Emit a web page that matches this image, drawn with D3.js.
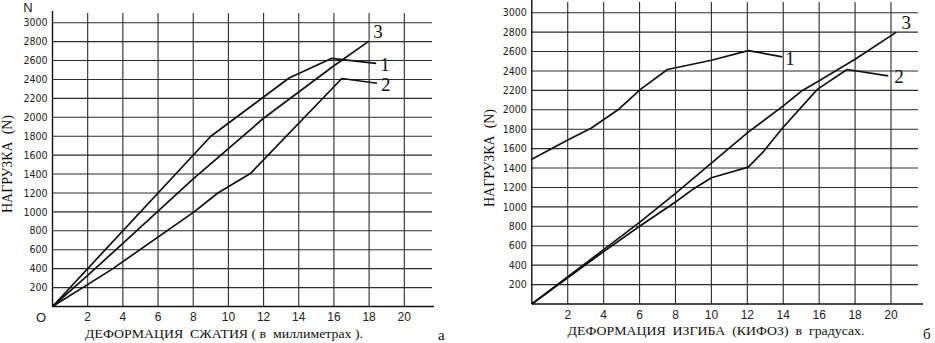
<!DOCTYPE html>
<html>
<head>
<meta charset="utf-8">
<script src="https://cdn.jsdelivr.net/npm/d3@7"></script>
<style>
    body { margin: 0; background: #fff; }
    .grid line { stroke: #2b2b2b; stroke-width: 1.1; }
    .axis-line { stroke: #111; stroke-width: 1.4; }
    .curve { fill: none; stroke: #111; stroke-width: 1.7; stroke-linejoin: round; }
    .y-tick { font-family: "Liberation Sans Narrow", "DejaVu Sans Condensed", sans-serif; font-size: 10.5px; fill: #222; }
    .x-tick { font-family: "Liberation Sans", Arial, sans-serif; font-size: 12px; fill: #222; }
    .title { font-family: "Liberation Serif", "Times New Roman", serif; font-size: 13.5px; fill: #111; white-space: pre; }
    .curve-label { font-family: "Liberation Serif", "Times New Roman", serif; font-size: 19px; fill: #111; }
    .corner { font-family: "Liberation Sans", Arial, sans-serif; font-size: 13px; fill: #222; }
</style>
</head>
<body>
<div id="chart"></div>
<script>

// ---- data ----
// load axis ticks
const loadTicks = [200, 400, 600, 800, 1000, 1200, 1400, 1600, 1800, 2000, 2200, 2400, 2600, 2800, 3000];
const deformTicks = [2, 4, 6, 8, 10, 12, 14, 16, 18, 20];

// a) compression, mm -> load N
const compressionCurve1 = [[0, 0], [9, 1800], [13.45, 2415], [15.85, 2622], [18.4, 2570]];
const compressionCurve2 = [[0, 0], [3.35, 390], [8.05, 1000], [9.4, 1200], [11.25, 1405], [16.45, 2410], [18.45, 2360]];
const compressionCurve3 = [[0, 0], [2, 330], [4, 667], [8, 1350], [12, 1990], [16, 2545], [17.95, 2800]];

// б) bending (kyphosis), degrees -> load N
const bendingCurve1 = [[0, 1490], [2, 1690], [3.3, 1810], [4.8, 2000], [6.05, 2210], [7.55, 2415], [10, 2510], [12.05, 2610], [13.95, 2545]];
const bendingCurve2 = [[0, 0], [2, 270], [4, 540], [6, 800], [8, 1050], [9, 1185], [10, 1300], [12.05, 1410], [12.9, 1570], [13.95, 1810], [15.9, 2210], [17.55, 2415], [19.85, 2350]];
const bendingCurve3 = [[0, 0], [4, 560], [6, 840], [8, 1140], [10, 1450], [12.05, 1770], [14, 2040], [15, 2190], [16, 2300], [18, 2520], [20.3, 2800]];

const curveNames = ["1", "2", "3"];


class LoadChart {

    constructor(svg, curves, config) {
        this.svg = svg;
        this.curves = curves;
        this.config = config;

        this.initVis();
    }

    initVis() {
        let vis = this;
        let c = vis.config;

        vis.g = vis.svg.append("g").attr("class", "load-chart");

        vis.x = d3.scaleLinear().domain([0, 20]).range([c.x0, c.x20]);
        vis.y = d3.scaleLinear().domain([0, 3000]).range([c.y0, c.y3000]);

        vis.updateVis();
    }

    updateVis() {
        let vis = this;
        let c = vis.config;

        // horizontal grid
        vis.g.append("g").attr("class", "grid")
            .selectAll("line")
            .data(loadTicks)
            .join("line")
            .attr("x1", vis.x(0))
            .attr("x2", c.gridRight)
            .attr("y1", d => vis.y(d))
            .attr("y2", d => vis.y(d));

        // vertical grid
        vis.g.append("g").attr("class", "grid")
            .selectAll("line")
            .data(deformTicks)
            .join("line")
            .attr("x1", d => vis.x(d))
            .attr("x2", d => vis.x(d))
            .attr("y1", vis.y(0))
            .attr("y2", c.gridTop);

        // axes
        vis.g.append("line").attr("class", "axis-line")
            .attr("x1", vis.x(0)).attr("x2", c.axisRight)
            .attr("y1", vis.y(0)).attr("y2", vis.y(0));
        vis.g.append("line").attr("class", "axis-line")
            .attr("x1", vis.x(0)).attr("x2", vis.x(0))
            .attr("y1", vis.y(0)).attr("y2", c.axisTop);

        // tick labels
        vis.g.selectAll(".y-tick")
            .data(loadTicks)
            .join("text")
            .attr("class", "y-tick")
            .attr("x", vis.x(0) - 5)
            .attr("y", d => vis.y(d))
            .attr("dy", "0.35em")
            .attr("text-anchor", "end")
            .text(d => d);

        vis.g.selectAll(".x-tick")
            .data(deformTicks)
            .join("text")
            .attr("class", "x-tick")
            .attr("x", d => vis.x(d))
            .attr("y", c.xTickY)
            .attr("text-anchor", "middle")
            .text(d => d);

        // titles (stretched to the width they take in the scan)
        vis.g.append("text").attr("class", "title")
            .attr("x", c.xTitleX).attr("y", c.xTitleY)
            .attr("text-anchor", "middle")
            .attr("textLength", c.xTitleLen)
            .attr("lengthAdjust", "spacingAndGlyphs")
            .text(c.xTitle);

        vis.g.append("text").attr("class", "title")
            .attr("transform", `translate(${c.yTitleX}, ${c.yTitleY}) rotate(-90)`)
            .attr("text-anchor", "middle")
            .attr("textLength", 98)
            .attr("lengthAdjust", "spacingAndGlyphs")
            .style("font-size", "15px")
            .text("НАГРУЗКА  (N)");

        // curves
        let line = d3.line().x(d => vis.x(d[0])).y(d => vis.y(d[1]));

        vis.g.selectAll(".curve")
            .data(vis.curves)
            .join("path")
            .attr("class", "curve")
            .attr("d", d => line(d));

        // curve numbers next to the end points
        vis.g.selectAll(".curve-label")
            .data(vis.curves)
            .join("text")
            .attr("class", "curve-label")
            .attr("x", (d, i) => vis.x(d[d.length - 1][0]) + c.labelOffsets[i][0])
            .attr("y", (d, i) => vis.y(d[d.length - 1][1]) + c.labelOffsets[i][1])
            .attr("dy", "0.35em")
            .text((d, i) => curveNames[i]);

        // panel letter
        vis.g.append("text").attr("class", "title")
            .attr("x", c.letterX).attr("y", c.letterY)
            .style("font-size", "15px")
            .text(c.letter);
    }
}


let svg = d3.select("#chart").append("svg")
    .attr("width", 935)
    .attr("height", 343);

let leftChart = new LoadChart(svg, [compressionCurve1, compressionCurve2, compressionCurve3], {
    x0: 52.5, x20: 404.3, y0: 306.5, y3000: 22.7,
    gridRight: 432, gridTop: 13, axisRight: 434, axisTop: 11,
    xTickY: 321,
    xTitle: "ДЕФОРМАЦИЯ  СЖАТИЯ ( в  миллиметрах ).", xTitleX: 224, xTitleY: 338, xTitleLen: 278,
    yTitleX: 12, yTitleY: 164,
    labelOffsets: [[4, 1], [4, 1], [5, -10]],
    letter: "а", letterX: 438, letterY: 340
});

let rightChart = new LoadChart(svg, [bendingCurve1, bendingCurve2, bendingCurve3], {
    x0: 531.8, x20: 891, y0: 304, y3000: 12.7,
    gridRight: 918, gridTop: 2, axisRight: 923, axisTop: 0,
    xTickY: 319,
    xTitle: "ДЕФОРМАЦИЯ  ИЗГИБА  (КИФОЗ)  в  градусах.", xTitleX: 716, xTitleY: 335, xTitleLen: 297,
    yTitleX: 494, yTitleY: 158,
    labelOffsets: [[3, 1], [6, 1], [5, -10]],
    letter: "б", letterX: 923, letterY: 339
});

// origin mark and unit on the left panel
svg.append("text").attr("class", "corner")
    .attr("x", 41).attr("y", 322)
    .attr("text-anchor", "middle")
    .text("O");
svg.append("text").attr("class", "corner")
    .attr("x", 28).attr("y", 12)
    .attr("text-anchor", "middle")
    .text("N");

</script>
</body>
</html>
